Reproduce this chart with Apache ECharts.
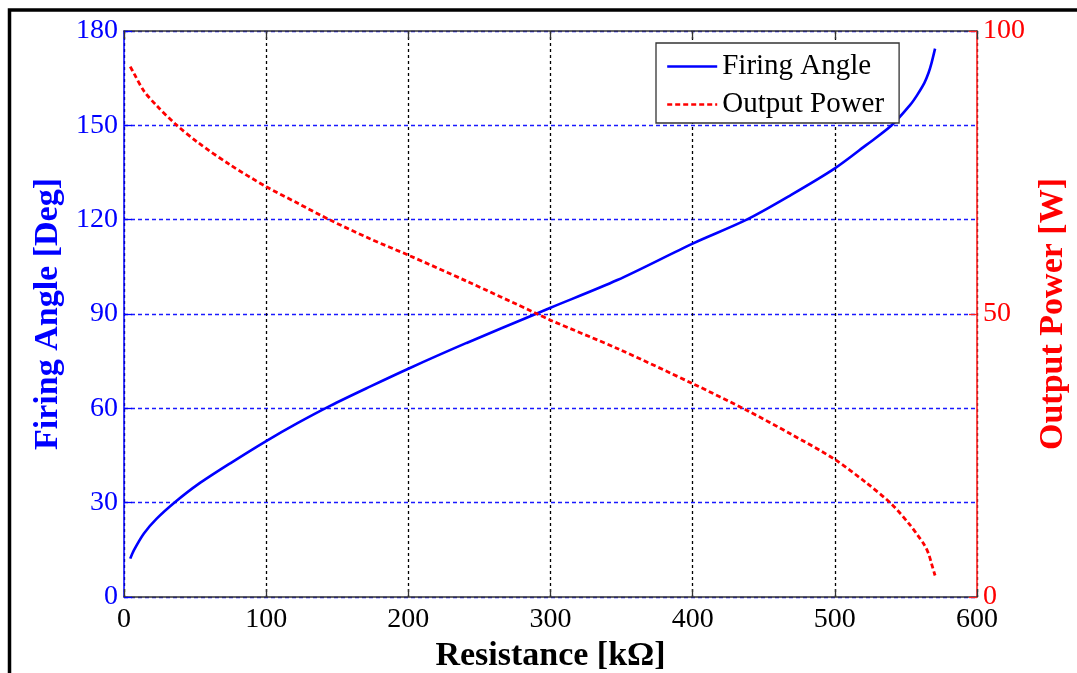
<!DOCTYPE html>
<html><head><meta charset="utf-8">
<script src="https://cdn.jsdelivr.net/npm/echarts@6/dist/echarts.min.js"></script>
<style>html,body{margin:0;padding:0;background:#fff}#c{width:1077px;height:673px}</style>
</head><body><div id="c"></div>
<script>
// Resistance [kΩ] sample points
const resistance = [4.4, 7, 14, 23, 36, 52, 75, 100, 122, 145, 173, 200, 241, 290, 300, 347, 400, 438, 469, 500, 522, 540, 553, 558, 563, 566, 568, 570.5];
// Firing angle [deg]
const firingAngle = [12.2, 14.9, 20.2, 24.9, 30.2, 35.8, 42.6, 49.6, 55.3, 60.8, 66.9, 72.6, 80.8, 90.1, 92.0, 100.8, 112.4, 120.0, 127.8, 136.3, 143.7, 150.0, 156.5, 159.7, 163.5, 166.8, 169.8, 174.4];
// Output power [W]
const outputPower = [93.7, 92.5, 89.4, 86.8, 83.6, 80.3, 76.3, 72.5, 69.6, 66.6, 63.3, 60.4, 55.8, 50.1, 48.9, 43.9, 37.7, 33.0, 28.8, 24.3, 20.2, 16.4, 12.7, 11.0, 9.2, 7.6, 5.9, 3.8];
const seriesNames = ['Firing Angle', 'Output Power'];
const xTitle = 'Resistance [kΩ]';
const yLeftTitle = 'Firing Angle [Deg]';
const yRightTitle = 'Output Power [W]';

const FONT = 'Liberation Serif';
const chart = echarts.init(document.getElementById('c'), null, {renderer: 'canvas'});
const faData = resistance.map((r, i) => [r, firingAngle[i]]);
const opData = resistance.map((r, i) => [r, outputPower[i]]);

chart.setOption({
  animation: false,
  backgroundColor: '#fff',
  grid: {left: 124, right: 100, top: 31, bottom: 76, containLabel: false, outerBoundsMode: 'none'},
  graphic: [{
    type: 'polyline',
    shape: {points: [[9.5, 673], [9.5, 10], [1077, 10]]},
    style: {stroke: '#000', lineWidth: 3.5, fill: null},
    z: 100
  }],
  legend: {
    orient: 'vertical',
    left: 656, top: 43,
    padding: [8, 15, 3, 10],
    itemWidth: 50, itemHeight: 14, itemGap: 7,
    backgroundColor: '#fff',
    borderColor: '#333', borderWidth: 1.3,
    itemStyle: {color: 'rgba(0,0,0,0)', borderColor: 'rgba(0,0,0,0)', borderWidth: 0},
    lineStyle: {width: 2.4},
    textStyle: {fontFamily: FONT, fontSize: 29, color: '#000', lineHeight: 31},
    data: seriesNames
  },
  xAxis: [{
    type: 'value', min: 0, max: 600, interval: 100, position: 'bottom',
    name: xTitle, nameLocation: 'middle', nameGap: 38,
    nameTextStyle: {fontFamily: FONT, fontSize: 34, fontWeight: 'bold', color: '#000'},
    axisLine: {show: true, onZero: false, lineStyle: {color: '#333', width: 1.5}},
    axisTick: {show: true, inside: true, length: 8, lineStyle: {color: '#333', width: 1.3}},
    axisLabel: {fontFamily: FONT, fontSize: 28, color: '#000', margin: 9},
    splitLine: {show: true, lineStyle: {color: '#000', type: [3, 3], width: 1.3}}
  }, {
    type: 'value', min: 0, max: 600, interval: 100, position: 'top',
    axisLine: {show: true, onZero: false, lineStyle: {color: '#333', width: 1.5}},
    axisTick: {show: true, inside: true, length: 8, lineStyle: {color: '#333', width: 1.3}},
    axisLabel: {show: false},
    splitLine: {show: false}
  }],
  yAxis: [{
    type: 'value', min: 0, max: 180, interval: 30, position: 'left',
    name: yLeftTitle, nameLocation: 'middle', nameGap: 58, nameRotate: 90,
    nameTextStyle: {fontFamily: FONT, fontSize: 34, fontWeight: 'bold', color: '#0000ff'},
    axisLine: {show: true, onZero: false, lineStyle: {color: '#0000ff', width: 1.5}},
    axisTick: {show: true, inside: true, length: 8, lineStyle: {color: '#0000ff', width: 1.3}},
    axisLabel: {fontFamily: FONT, fontSize: 28, color: '#0000ff', margin: 6},
    splitLine: {show: true, lineStyle: {color: '#1a1aff', type: [4, 3], width: 1.4}}
  }, {
    type: 'value', min: 0, max: 100, interval: 50, position: 'right',
    name: yRightTitle, nameLocation: 'middle', nameGap: 56, nameRotate: 90,
    nameTextStyle: {fontFamily: FONT, fontSize: 34, fontWeight: 'bold', color: '#ff0000'},
    axisLine: {show: true, onZero: false, lineStyle: {color: '#ff2020', width: 1.6}},
    axisTick: {show: true, inside: true, length: 8, lineStyle: {color: '#ff2020', width: 1.3}},
    axisLabel: {fontFamily: FONT, fontSize: 28, color: '#ff0000', margin: 6},
    splitLine: {show: false}
  }],
  series: [{
    name: seriesNames[0], type: 'line', xAxisIndex: 0, yAxisIndex: 0,
    data: faData, showSymbol: false, symbol: 'none', smooth: 0.3,
    lineStyle: {color: '#0000ff', width: 2.6, type: 'solid'},
    itemStyle: {color: '#0000ff'}, z: 3
  }, {
    name: seriesNames[1], type: 'line', xAxisIndex: 0, yAxisIndex: 1,
    data: opData, showSymbol: false, symbol: 'none', smooth: 0.3,
    lineStyle: {color: '#ff0000', width: 2.8, type: [5, 3]},
    itemStyle: {color: '#ff0000'}, z: 4
  }]
});
</script>
</body></html>
